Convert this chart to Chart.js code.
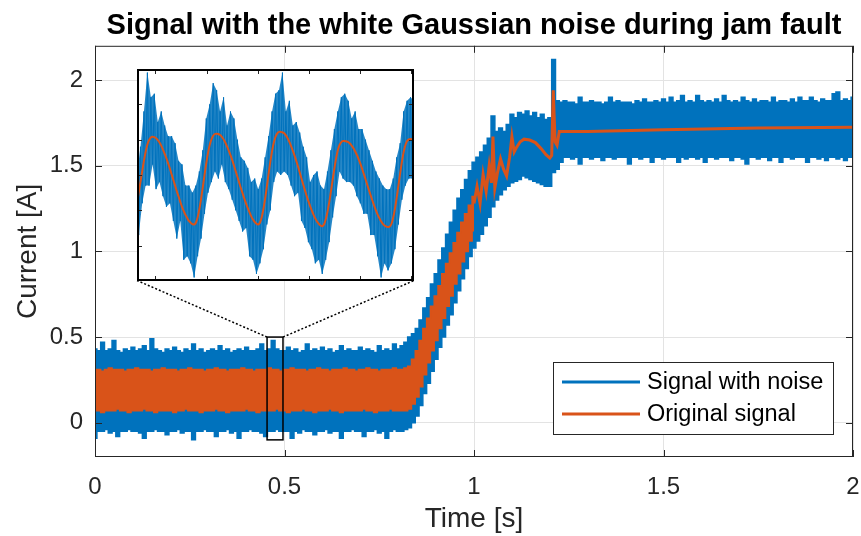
<!DOCTYPE html>
<html>
<head>
<meta charset="utf-8">
<script src="https://cdn.jsdelivr.net/npm/chart.js@4.4.0/dist/chart.umd.min.js"></script>
<style>
    html, body { margin: 0; background: #fff; }
    #wrap { position: relative; width: 861px; height: 536px; }
    #insetCanvas { position: absolute; }
</style>
</head>
<body>
<div id="wrap">
    <canvas id="mainCanvas" width="861" height="536"></canvas>
    <canvas id="insetCanvas"></canvas>
</div>
<script>
// ---- Data ----

// main plot: envelopes sampled every 10 ms, from 0 to 2 s
const SAMPLE_STEP = 0.01;
const NOISY_UPPER = [
    0.43,0.42,0.47,0.42,0.43,0.48,0.42,0.41,0.43,0.42,
    0.44,0.42,0.43,0.45,0.42,0.49,0.43,0.42,0.41,0.43,
    0.42,0.44,0.42,0.41,0.43,0.42,0.46,0.42,0.43,0.41,
    0.42,0.43,0.42,0.45,0.42,0.43,0.41,0.42,0.43,0.42,
    0.44,0.42,0.42,0.43,0.46,0.42,0.43,0.48,0.43,0.42,
    0.42,0.44,0.42,0.43,0.41,0.42,0.46,0.42,0.43,0.42,
    0.44,0.42,0.43,0.41,0.42,0.45,0.42,0.43,0.42,0.42,
    0.44,0.42,0.43,0.42,0.41,0.45,0.42,0.43,0.42,0.46,
    0.43,0.45,0.47,
    0.50,0.52,0.55,0.60,0.67,0.73,0.81,0.87,0.95,1.02,1.10,1.17,1.24,1.31,1.36,1.42,1.47,1.52,
    1.55,1.58,1.62,1.66,1.79,1.70,1.72,1.70,1.74,1.80,1.78,1.81,1.80,1.82,1.79,1.81,1.78,1.80,1.77,1.78,2.12,1.88,
    1.87,1.88,1.87,1.87,1.86,1.90,1.87,1.87,1.88,1.87,
    1.87,1.86,1.87,1.90,1.87,1.88,1.87,1.87,1.87,1.86,
    1.88,1.87,1.89,1.87,1.87,1.88,1.87,1.89,1.87,1.90,
    1.87,1.88,1.91,1.87,1.88,1.87,1.91,1.88,1.87,1.88,
    1.87,1.89,1.87,1.91,1.88,1.87,1.88,1.87,1.90,1.88,
    1.87,1.89,1.87,1.88,1.88,1.87,1.90,1.87,1.88,1.88,
    1.87,1.89,1.87,1.90,1.88,1.88,1.90,1.88,1.87,1.89,
    1.88,1.88,1.92,1.93,1.88,1.89,1.88,1.90
];
const NOISY_LOWER = [
    -0.09,-0.05,-0.05,-0.04,-0.06,-0.05,-0.08,-0.05,-0.05,-0.04,
    -0.05,-0.05,-0.06,-0.09,-0.05,-0.05,-0.04,-0.05,-0.05,-0.07,
    -0.05,-0.05,-0.04,-0.06,-0.05,-0.05,-0.10,-0.05,-0.05,-0.04,
    -0.05,-0.05,-0.08,-0.05,-0.05,-0.04,-0.06,-0.05,-0.09,-0.05,
    -0.05,-0.04,-0.05,-0.05,-0.06,-0.08,-0.05,-0.05,-0.04,-0.05,
    -0.05,-0.05,-0.09,-0.05,-0.06,-0.04,-0.05,-0.05,-0.07,-0.05,
    -0.05,-0.04,-0.06,-0.05,-0.05,-0.09,-0.05,-0.05,-0.04,-0.05,
    -0.05,-0.08,-0.05,-0.05,-0.04,-0.06,-0.05,-0.09,-0.05,-0.04,
    -0.05,-0.05,-0.04,
    -0.03,0.00,0.04,0.10,0.17,0.23,0.30,0.37,0.44,0.50,0.57,0.63,0.70,0.77,0.84,0.90,0.97,1.02,
    1.06,1.10,1.15,1.20,1.26,1.30,1.33,1.36,1.38,1.40,1.41,1.42,1.44,1.43,1.42,1.41,1.40,1.39,1.38,1.38,1.46,1.48,
    1.52,1.55,1.55,1.54,1.55,1.51,1.55,1.55,1.54,1.55,
    1.55,1.53,1.55,1.55,1.54,1.55,1.55,1.55,1.51,1.55,
    1.55,1.54,1.55,1.55,1.52,1.55,1.55,1.54,1.55,1.55,
    1.55,1.52,1.55,1.54,1.55,1.55,1.54,1.55,1.52,1.55,
    1.55,1.54,1.55,1.55,1.55,1.53,1.55,1.55,1.54,1.51,
    1.55,1.55,1.54,1.55,1.55,1.53,1.55,1.55,1.52,1.55,
    1.55,1.54,1.55,1.55,1.55,1.52,1.55,1.55,1.54,1.55,
    1.53,1.55,1.55,1.54,1.55,1.53,1.55,1.55
];

// original signal: oscillating band up to 1 s (same 10 ms grid)
const ORIG_UPPER = [
    0.31,0.31,0.30,0.31,0.32,0.31,0.31,0.31,0.30,0.31,
    0.31,0.32,0.31,0.31,0.31,0.30,0.31,0.31,0.32,0.31,
    0.31,0.31,0.30,0.31,0.31,0.32,0.31,0.31,0.31,0.30,
    0.31,0.31,0.32,0.31,0.31,0.30,0.31,0.31,0.31,0.32,
    0.31,0.31,0.30,0.31,0.31,0.31,0.32,0.31,0.31,0.30,
    0.31,0.31,0.32,0.31,0.31,0.31,0.30,0.31,0.31,0.32,
    0.31,0.31,0.30,0.31,0.31,0.31,0.32,0.31,0.31,0.30,
    0.31,0.31,0.32,0.31,0.31,0.30,0.31,0.31,0.31,0.32,
    0.31,0.31,0.32,
    0.33,0.37,0.42,0.48,0.55,0.61,0.68,0.74,0.80,0.87,0.93,0.99,1.05,1.11,1.17,1.22,1.27,1.32
];
const ORIG_LOWER = [
    0.07,0.07,0.06,0.07,0.07,0.07,0.08,0.07,0.07,0.06,
    0.07,0.07,0.07,0.08,0.07,0.07,0.06,0.07,0.07,0.07,
    0.07,0.06,0.07,0.07,0.08,0.07,0.07,0.07,0.06,0.07,
    0.07,0.07,0.08,0.07,0.07,0.06,0.07,0.07,0.07,0.07,
    0.08,0.07,0.07,0.06,0.07,0.07,0.07,0.07,0.08,0.07,
    0.07,0.06,0.07,0.07,0.07,0.08,0.07,0.07,0.06,0.07,
    0.07,0.07,0.08,0.07,0.07,0.06,0.07,0.07,0.07,0.07,
    0.07,0.08,0.07,0.07,0.06,0.07,0.07,0.07,0.08,0.07,
    0.07,0.07,0.07,
    0.08,0.11,0.15,0.21,0.28,0.35,0.42,0.48,0.55,0.61,0.68,0.74,0.81,0.87,0.94,1.00,1.06,1.12
];
// original signal after 1 s, where it is a single trace
const ORIG_LATE_T = [
    1.000,1.008,1.016,1.024,1.032,1.040,1.046,1.050,1.055,1.062,
    1.070,1.078,1.086,1.094,1.100,1.106,1.113,1.122,1.132,1.147,
    1.162,1.177,1.190,1.200,1.205,1.209,1.214,1.219,1.225,1.240,
    1.300,1.500,1.750,2.000
];
const ORIG_LATE_Y = [
    1.28,1.38,1.28,1.45,1.35,1.50,1.40,1.67,1.37,1.46,
    1.54,1.48,1.44,1.55,1.67,1.58,1.61,1.64,1.655,1.65,
    1.635,1.60,1.565,1.545,1.56,1.94,1.64,1.62,1.70,1.70,
    1.70,1.71,1.72,1.725
];

// zoomed window (inset), samples alternate between crest and trough of the noise
const ZOOM_T0 = 0.4582;
const ZOOM_T1 = 0.4853;
const ZOOM_NOISY = [
    0.20,0.03,0.28,0.12,0.38,0.17,0.49,0.17,0.42,0.23,
    0.43,0.16,0.35,0.18,0.38,0.14,0.34,0.11,0.31,0.12,
    0.31,0.07,0.29,0.02,0.24,0.07,0.23,-0.04,0.17,-0.03,
    0.17,-0.05,0.15,-0.09,0.17,-0.03,0.21,0.02,0.27,0.09,
    0.36,0.15,0.40,0.18,0.46,0.21,0.44,0.19,0.38,0.23,
    0.42,0.18,0.34,0.16,0.38,0.13,0.36,0.10,0.30,0.07,
    0.25,0.04,0.24,0.05,0.22,-0.03,0.18,-0.04,0.19,-0.08,
    0.16,-0.05,0.19,-0.01,0.25,0.06,0.31,0.10,0.38,0.18,
    0.43,0.21,0.44,0.20,0.49,0.21,0.38,0.20,0.41,0.17,
    0.34,0.14,0.35,0.15,0.32,0.07,0.28,0.05,0.25,0.01,
    0.18,-0.01,0.20,-0.05,0.21,-0.04,0.17,-0.08,0.16,-0.04,
    0.21,0.01,0.27,0.08,0.33,0.14,0.38,0.21,0.42,0.19,
    0.43,0.18,0.41,0.18,0.36,0.17,0.38,0.14,0.33,0.12,
    0.33,0.09,0.30,0.09,0.27,0.03,0.24,0.03,0.21,-0.03,
    0.19,-0.09,0.17,-0.05,0.16,-0.07,0.16,-0.05,0.19,-0.01,
    0.25,0.06,0.29,0.13,0.38,0.17,0.41,0.19,0.42,0.19,0.41
];
const ZOOM_ORIG = [
    0.120,0.150,0.180,0.210,0.240,0.266,0.286,0.299,0.306,0.308,
    0.307,0.304,0.299,0.292,0.283,0.272,0.260,0.247,0.233,0.218,
    0.202,0.186,0.170,0.154,0.139,0.124,0.110,0.098,0.087,0.078,
    0.070,0.065,0.061,0.060,0.065,0.080,0.103,0.132,0.165,0.200,
    0.233,0.262,0.285,0.301,0.311,0.316,0.317,0.316,0.313,0.308,
    0.301,0.292,0.281,0.269,0.256,0.242,0.227,0.211,0.195,0.179,
    0.163,0.148,0.133,0.119,0.106,0.094,0.083,0.074,0.067,0.062,
    0.060,0.065,0.080,0.103,0.133,0.167,0.203,0.237,0.267,0.291,
    0.308,0.318,0.322,0.322,0.321,0.318,0.312,0.304,0.294,0.282,
    0.269,0.255,0.240,0.224,0.207,0.190,0.173,0.157,0.141,0.126,
    0.112,0.099,0.087,0.077,0.068,0.062,0.057,0.055,0.060,0.074,
    0.095,0.122,0.153,0.186,0.218,0.247,0.270,0.285,0.293,0.296,
    0.296,0.295,0.293,0.289,0.283,0.276,0.267,0.257,0.245,0.232,
    0.218,0.203,0.188,0.172,0.157,0.142,0.127,0.113,0.100,0.088,
    0.078,0.069,0.062,0.057,0.054,0.053,0.054,0.062,0.080,0.105,
    0.136,0.170,0.205,0.237,0.264,0.284,0.296,0.301,0.302,0.301,0.300
];

// axes
const X_TICKS = [0, 0.5, 1, 1.5, 2];
const X_TICK_LABELS = ['0', '0.5', '1', '1.5', '2'];
const Y_TICKS = [0, 0.5, 1, 1.5, 2];
const Y_TICK_LABELS = ['0', '0.5', '1', '1.5', '2'];
const ZOOM_X_TICKS = [0.46, 0.465, 0.47, 0.475, 0.48, 0.485];
const ZOOM_Y_TICKS = [0, 0.1, 0.2, 0.3, 0.4];
const LEGEND_LABELS = ['Signal with noise', 'Original signal'];

// ---- Layout (in data units of the main axes) ----
const ZOOM_RECT = { x0: 0.454, x1: 0.496, y0: -0.1, y1: 0.5 };
const INSET_BOX = { x0: 0.111, x1: 0.842, y0: 0.83, y1: 2.064 };

const BLUE = '#0072BD';
const ORANGE = '#D95319';
const AXIS_COLOR = '#262626';
const FONT = "'Liberation Sans', Arial, sans-serif";

Chart.defaults.font.family = FONT;
Chart.defaults.color = AXIS_COLOR;

function onGrid(values) {
    return values.map((v, i) => ({ x: +(i * SAMPLE_STEP).toFixed(2), y: v }));
}

// box, inward ticks, zoom rectangle, connectors and legend
const mainDecor = {
    id: 'mainDecor',
    afterDatasetsDraw(chart) {
        const { ctx, chartArea: a, scales: { x, y } } = chart;
        ctx.save();

        // zoom rectangle and dotted connectors
        const rL = x.getPixelForValue(ZOOM_RECT.x0), rR = x.getPixelForValue(ZOOM_RECT.x1);
        const rT = y.getPixelForValue(ZOOM_RECT.y1), rB = y.getPixelForValue(ZOOM_RECT.y0);
        const iL = x.getPixelForValue(INSET_BOX.x0), iR = x.getPixelForValue(INSET_BOX.x1);
        const iB = y.getPixelForValue(INSET_BOX.y0);
        ctx.strokeStyle = '#000';
        ctx.lineWidth = 1.5;
        ctx.strokeRect(rL, rT, rR - rL, rB - rT);
        ctx.setLineDash([2, 2]);
        ctx.beginPath();
        ctx.moveTo(rL, rT); ctx.lineTo(iL, iB);
        ctx.moveTo(rR, rT); ctx.lineTo(iR, iB);
        ctx.stroke();
        ctx.setLineDash([]);

        // axes box with inward ticks
        ctx.strokeStyle = AXIS_COLOR;
        ctx.lineWidth = 1;
        ctx.strokeRect(a.left + 0.5, a.top + 0.5, a.width - 1, a.height - 1);
        ctx.beginPath();
        X_TICKS.forEach(v => {
            const p = Math.round(x.getPixelForValue(v)) + 0.5;
            ctx.moveTo(p, a.bottom); ctx.lineTo(p, a.bottom - 7);
            ctx.moveTo(p, a.top); ctx.lineTo(p, a.top + 7);
        });
        Y_TICKS.forEach(v => {
            const p = Math.round(y.getPixelForValue(v)) + 0.5;
            ctx.moveTo(a.left, p); ctx.lineTo(a.left + 7, p);
            ctx.moveTo(a.right, p); ctx.lineTo(a.right - 7, p);
        });
        ctx.stroke();

        // legend
        const w = 280, h = 72;
        const lx = a.right - 20 - w, ly = a.bottom - 23 - h;
        ctx.fillStyle = '#fff';
        ctx.fillRect(lx, ly, w, h);
        ctx.strokeStyle = AXIS_COLOR;
        ctx.strokeRect(lx + 0.5, ly + 0.5, w, h);
        ctx.font = '23.5px ' + FONT;
        ctx.textBaseline = 'middle';
        ctx.textAlign = 'left';
        [BLUE, ORANGE].forEach((c, i) => {
            const cy = ly + 20 + i * 32;
            ctx.strokeStyle = c;
            ctx.lineWidth = 3;
            ctx.beginPath();
            ctx.moveTo(lx + 9, cy); ctx.lineTo(lx + 87, cy);
            ctx.stroke();
            ctx.fillStyle = '#000';
            ctx.fillText(LEGEND_LABELS[i], lx + 94, cy + 1);
        });
        ctx.restore();
    }
};

const bandStyle = (color) => ({
    borderColor: color,
    backgroundColor: color,
    borderWidth: 1.5,
    pointRadius: 0,
    stepped: 'middle'
});

const mainChart = new Chart(document.getElementById('mainCanvas'), {
    type: 'line',
    data: {
        datasets: [
            { label: 'origUpper', data: onGrid(ORIG_UPPER), fill: 1, ...bandStyle(ORANGE), order: 0 },
            { label: 'origLower', data: onGrid(ORIG_LOWER), fill: false, ...bandStyle(ORANGE), order: 0 },
            {
                label: 'origLate',
                data: ORIG_LATE_T.map((t, i) => ({ x: t, y: ORIG_LATE_Y[i] })),
                borderColor: ORANGE, borderWidth: 3, pointRadius: 0, fill: false, order: 1
            },
            { label: 'noisyUpper', data: onGrid(NOISY_UPPER), fill: 4, ...bandStyle(BLUE), order: 2 },
            { label: 'noisyLower', data: onGrid(NOISY_LOWER), fill: false, ...bandStyle(BLUE), order: 2 }
        ]
    },
    options: {
        responsive: false,
        animation: false,
        events: [],
        layout: { padding: { left: 0, right: 8, top: 0, bottom: 0 } },
        plugins: {
            legend: { display: false },
            tooltip: { enabled: false },
            title: {
                display: true,
                fullSize: false,
                text: 'Signal with the white Gaussian noise during jam fault',
                color: '#000',
                font: { size: 29, weight: 'bold' },
                padding: { top: 9, bottom: 2 }
            }
        },
        scales: {
            x: {
                type: 'linear',
                min: 0,
                max: 2,
                afterBuildTicks: s => { s.ticks = X_TICKS.map(v => ({ value: v })); },
                afterFit: s => { s.height = 79; s.paddingLeft = 0; s.paddingRight = 0; },
                ticks: {
                    font: { size: 24 },
                    padding: 16,
                    maxRotation: 0,
                    callback: (v, i) => X_TICK_LABELS[i]
                },
                grid: { color: '#e3e3e3', drawTicks: false },
                border: { display: false },
                title: { display: true, text: 'Time [s]', font: { size: 28 }, padding: { top: 0, bottom: 0 } }
            },
            y: {
                min: -0.2,
                max: 2.2,
                afterBuildTicks: s => { s.ticks = Y_TICKS.map(v => ({ value: v })); },
                afterFit: s => { s.width = 95; s.paddingTop = 0; s.paddingBottom = 0; },
                ticks: {
                    font: { size: 24 },
                    padding: 12,
                    callback: (v, i) => Y_TICK_LABELS[i]
                },
                grid: { color: '#e3e3e3', drawTicks: false },
                border: { display: false },
                title: { display: true, text: 'Current [A]', font: { size: 28 }, padding: { top: 11, bottom: 0 } }
            }
        }
    },
    plugins: [mainDecor]
});

// ---- Inset ----
const xs = mainChart.scales.x, ys = mainChart.scales.y;
const insetLeft = Math.round(xs.getPixelForValue(INSET_BOX.x0));
const insetRight = Math.round(xs.getPixelForValue(INSET_BOX.x1));
const insetTop = Math.round(ys.getPixelForValue(INSET_BOX.y1));
const insetBottom = Math.round(ys.getPixelForValue(INSET_BOX.y0));
const insetCanvas = document.getElementById('insetCanvas');
insetCanvas.width = insetRight - insetLeft;
insetCanvas.height = insetBottom - insetTop;
insetCanvas.style.left = insetLeft + 'px';
insetCanvas.style.top = insetTop + 'px';

const zoomStep = (ZOOM_T1 - ZOOM_T0) / (ZOOM_NOISY.length - 1);
const zoomPoints = values => values.map((v, i) => ({ x: ZOOM_T0 + i * zoomStep, y: v }));
// crests (even samples) and troughs (odd samples) of the same noisy trace
const zoomCrests = zoomPoints(ZOOM_NOISY).filter((p, i) => i % 2 === 0);
const zoomTroughs = zoomPoints(ZOOM_NOISY).filter((p, i) => i % 2 === 1);

const insetDecor = {
    id: 'insetDecor',
    beforeDraw(chart) {
        const { ctx, width, height } = chart;
        ctx.save();
        ctx.fillStyle = '#fff';
        ctx.fillRect(0, 0, width, height);
        ctx.restore();
    },
    afterDraw(chart) {
        const { ctx, width, height, scales: { x, y } } = chart;
        ctx.save();
        ctx.strokeStyle = AXIS_COLOR;
        ctx.lineWidth = 1;
        ctx.beginPath();
        ZOOM_X_TICKS.forEach(v => {
            const p = Math.round(x.getPixelForValue(v)) + 0.5;
            ctx.moveTo(p, 0); ctx.lineTo(p, 5);
            ctx.moveTo(p, height); ctx.lineTo(p, height - 5);
        });
        ZOOM_Y_TICKS.forEach(v => {
            const p = Math.round(y.getPixelForValue(v)) + 0.5;
            ctx.moveTo(0, p); ctx.lineTo(5, p);
            ctx.moveTo(width, p); ctx.lineTo(width - 5, p);
        });
        ctx.stroke();
        ctx.strokeStyle = '#000';
        ctx.lineWidth = 2;
        ctx.strokeRect(1, 1, width - 2, height - 2);
        ctx.restore();
    }
};

new Chart(insetCanvas, {
    type: 'line',
    data: {
        datasets: [
            { data: zoomPoints(ZOOM_ORIG), borderColor: ORANGE, borderWidth: 2, pointRadius: 0, tension: 0.4, fill: false },
            { data: zoomPoints(ZOOM_NOISY), borderColor: BLUE, borderWidth: 1, pointRadius: 0, tension: 0, fill: false },
            { data: zoomCrests, borderWidth: 0, pointRadius: 0, fill: 3, backgroundColor: 'rgba(0,114,189,0.85)' },
            { data: zoomTroughs, borderWidth: 0, pointRadius: 0, fill: false }
        ]
    },
    options: {
        responsive: false,
        animation: false,
        events: [],
        layout: { padding: 0 },
        plugins: { legend: { display: false }, tooltip: { enabled: false } },
        scales: {
            x: { type: 'linear', display: false, min: ZOOM_T0, max: ZOOM_T1 },
            y: { display: false, min: -0.1, max: 0.5 }
        }
    },
    plugins: [insetDecor]
});
</script>
</body>
</html>
